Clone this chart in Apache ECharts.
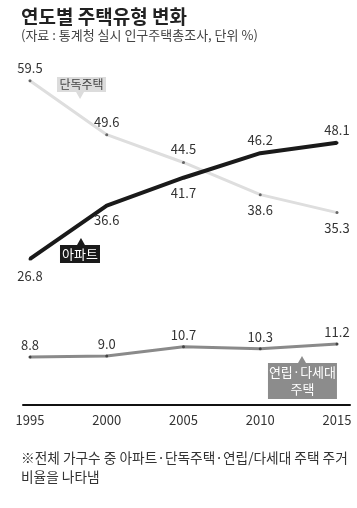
<!DOCTYPE html>
<html>
<head>
<meta charset="utf-8">
<script src="https://cdn.jsdelivr.net/npm/echarts@6/dist/echarts.min.js"></script>
<style>
html,body{margin:0;padding:0;background:#fff;}
#c{width:357px;height:508px;}
</style>
</head>
<body>
<div id="c"></div>
<script>
const years = [1995, 2000, 2005, 2010, 2015];
const detached = [59.5, 49.6, 44.5, 38.6, 35.3];
const apartment = [26.8, 36.6, 41.7, 46.2, 48.1];
const rowhouse = [8.8, 9.0, 10.7, 10.3, 11.2];
const seriesNames = ['단독주택', '아파트', '연립·다세대\n주택'];
const yearLabels = ['1995', '2000', '2005', '2010', '2015'];

const FONT = '"Noto Sans CJK KR", "Noto Sans", sans-serif';
const chart = echarts.init(document.getElementById('c'), null, {renderer: 'canvas'});

function pts(vals, posArr, distArr) {
  return vals.map((v, i) => ({
    value: [years[i], v],
    label: {position: posArr[i], distance: distArr[i]}
  }));
}
const lbl = {show: true, color: '#333', fontSize: 13, fontFamily: FONT,
  formatter: p => p.value[1].toFixed(1)};

const option = {
  animation: false,
  backgroundColor: '#fff',
  title: [
    {text: '연도별 주택유형 변화', left: 16, top: 2,
     textStyle: {fontSize: 19, fontWeight: 'bold', color: '#222', fontFamily: FONT}},
    {text: '(자료 : 통계청 실시 인구주택총조사, 단위 %)', left: 16, top: 24,
     textStyle: {fontSize: 13, fontWeight: 'normal', color: '#444', fontFamily: FONT}},
    {text: '※전체 가구수 중 아파트·단독주택·연립/다세대 주택 주거\n비율을 나타냄', left: 16, top: 443,
     textStyle: {fontSize: 13.7, fontWeight: 'normal', color: '#333', fontFamily: FONT, lineHeight: 19}}
  ],
  grid: {left: 23, right: 7, top: 78, bottom: 103},
  xAxis: {
    type: 'value', min: 1994.544, max: 2015.847,
    splitLine: {show: false},
    axisLine: {show: true, lineStyle: {color: '#111', width: 2}},
    axisTick: {show: false},
    axisLabel: {customValues: years, formatter: v => yearLabels[years.indexOf(v)] || '',
      color: '#333', fontSize: 13, fontFamily: FONT, margin: 9}
  },
  yAxis: {type: 'value', min: 0, max: 60, show: false, splitLine: {show: false}},
  series: [
    {
      name: seriesNames[0], type: 'line', z: 2,
      data: pts(detached, ['top','top','top','bottom','bottom'], [5,5,5,7,7]),
      lineStyle: {color: '#dedede', width: 3},
      symbol: 'circle', symbolSize: 3, showSymbol: true,
      itemStyle: {color: '#666'},
      label: lbl,
      markPoint: {
        silent: true,
        data: [
          {coord: [1998.26, 56.8], symbol: 'triangle', symbolRotate: 180, symbolSize: [8, 7],
           itemStyle: {color: '#dcdcdc'}, label: {show: false}},
          {coord: [1998.355, 58.8], symbol: 'rect', symbolSize: [49, 15],
           itemStyle: {color: '#dcdcdc'},
           label: {show: true, position: 'inside', formatter: seriesNames[0], color: '#444', fontSize: 12, fontFamily: FONT}}
        ]
      }
    },
    {
      name: seriesNames[1], type: 'line', z: 3,
      data: pts(apartment, ['bottom','bottom','bottom','top','top'], [9,7,7,5,5]),
      lineStyle: {color: '#1a1a1a', width: 4},
      symbol: 'circle', symbolSize: 3, showSymbol: true,
      itemStyle: {color: '#1a1a1a'},
      label: lbl,
      markPoint: {
        silent: true,
        data: [
          {coord: [1998.32, 30.0], symbol: 'triangle', symbolSize: [8, 7],
           itemStyle: {color: '#1a1a1a'}, label: {show: false}},
          {coord: [1998.257, 27.7], symbol: 'rect', symbolSize: [40, 18],
           itemStyle: {color: '#1a1a1a'},
           label: {show: true, position: 'inside', formatter: seriesNames[1], color: '#fff', fontSize: 13, fontFamily: FONT}}
        ]
      }
    },
    {
      name: seriesNames[2], type: 'line', z: 2,
      data: pts(rowhouse, ['top','top','top','top','top'], [4,4,4,4,4]),
      lineStyle: {color: '#8a8a8a', width: 3},
      symbol: 'circle', symbolSize: 3, showSymbol: true,
      itemStyle: {color: '#444'},
      label: lbl,
      markPoint: {
        silent: true,
        data: [
          {coord: [2012.72, 8.35], symbol: 'triangle', symbolSize: [8, 7],
           itemStyle: {color: '#8c8c8c'}, label: {show: false}},
          {coord: [2012.75, 4.4], symbol: 'rect', symbolSize: [69, 36],
           itemStyle: {color: '#8c8c8c'},
           label: {show: true, position: 'inside', formatter: seriesNames[2], color: '#fff', fontSize: 13, lineHeight: 17, align: 'center', fontFamily: FONT}}
        ]
      }
    }
  ]
};
chart.setOption(option);
</script>
</body>
</html>
